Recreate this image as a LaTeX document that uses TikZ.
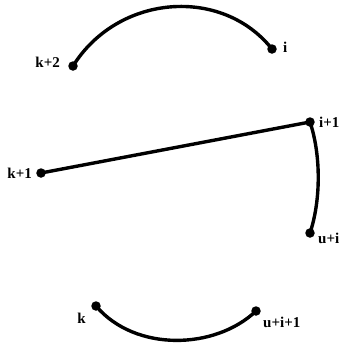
\documentclass[tikz,border=0pt]{standalone}
\usepackage{fontspec}
\setmainfont{Liberation Serif}
\tikzset{
  vtx/.style={circle,fill=black,inner sep=0pt,minimum size=9.5bp},
  lbl/.style={font=\bfseries\fontsize{15bp}{17bp}\selectfont,inner sep=0pt},
  edge/.style={line width=3.4bp}
}
\begin{document}
\begin{tikzpicture}[x=1bp,y=1bp]
\useasboundingbox (0,0) rectangle (342,-345);
\node[vtx] (k2) at (73,-66) {};
\node[vtx] (i) at (272,-49) {};
\node[vtx] (i1) at (310,-122) {};
\node[vtx] (k1) at (41,-173) {};
\node[vtx] (ui) at (310,-233) {};
\node[vtx] (k) at (96,-306) {};
\node[vtx] (ui1) at (256,-311) {};
\node[lbl,anchor=east] (lk2) at (60,-62) {k+2};
\node[lbl,anchor=west] (li) at (283,-47) {i};
\node[lbl,anchor=west] (li1) at (319,-122) {i+1};
\node[lbl,anchor=east] (lk1) at (32,-173) {k+1};
\node[lbl,anchor=west] (lui) at (318,-238) {u+i};
\node[lbl,anchor=east] (lk) at (86,-318) {k};
\node[lbl,anchor=west] (lui1) at (263,-322) {u+i+1};
\draw[edge] (k2.center) .. controls (118,6) and (222,14) .. (i.center);
\draw[edge] (k1.center) -- (i1.center);
\draw[edge] (i1.center) .. controls (321,-155) and (321,-200) .. (ui.center);
\draw[edge] (k.center) .. controls (135,-352) and (215,-350) .. (ui1.center);
\end{tikzpicture}
\end{document}
